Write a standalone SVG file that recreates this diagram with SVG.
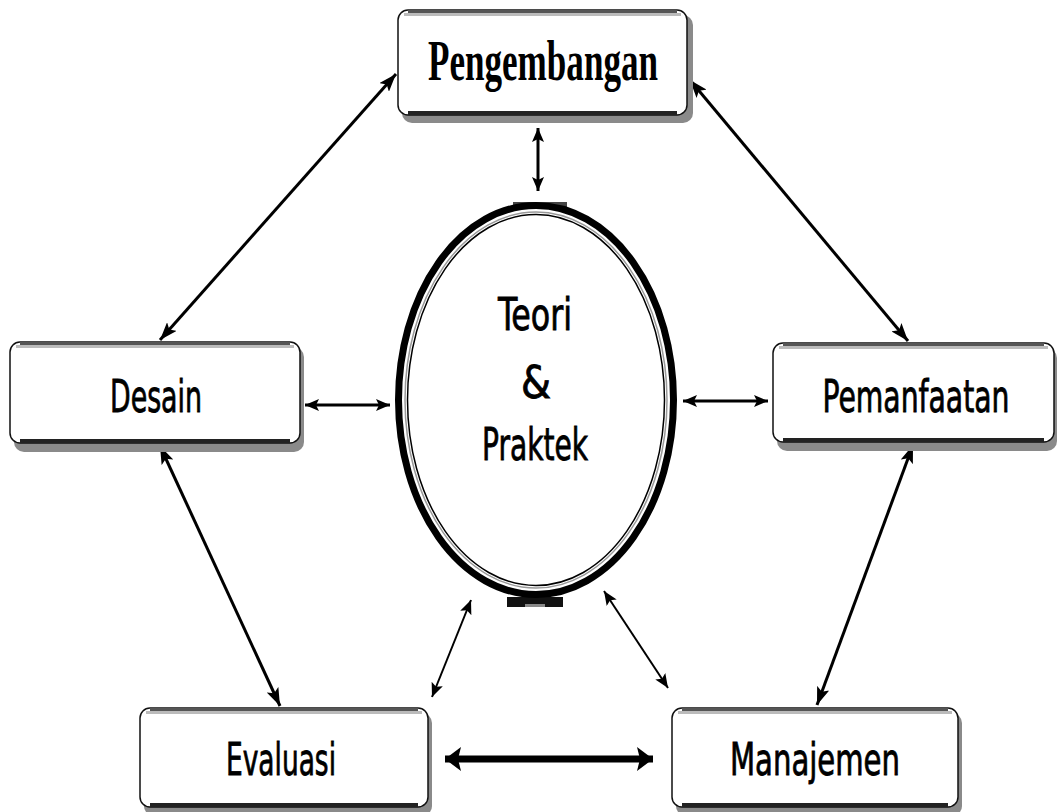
<svg xmlns="http://www.w3.org/2000/svg" width="1057" height="812" viewBox="0 0 1057 812">
<style>
.shadow{fill:#8a8a8a}
.box{fill:#fff;stroke:#111;stroke-width:1.5}
.topd{stroke:#555;stroke-width:3}
.topl{stroke:#bbb;stroke-width:3}
.botd{stroke:#222;stroke-width:4}
.lbl{font-family:"Liberation Sans Narrow","DejaVu Sans Condensed","Liberation Sans",sans-serif;font-weight:normal;font-size:44px;fill:#000;text-anchor:middle;stroke:#000;stroke-width:0.8}
.ser{font-family:"Liberation Serif",serif;font-weight:bold;font-size:56px;fill:#000;text-anchor:middle}
.con{fill:none;stroke:#000}
</style>
<defs>
<marker id="ab" viewBox="0 0 18 13" refX="18" refY="6.5" markerWidth="18" markerHeight="13" markerUnits="userSpaceOnUse" orient="auto-start-reverse"><path d="M0,0 L18,6.5 L0,13 L4,6.5 z" fill="#000"/></marker>
<marker id="as" viewBox="0 0 14 12" refX="14" refY="6" markerWidth="14" markerHeight="12" markerUnits="userSpaceOnUse" orient="auto-start-reverse"><path d="M0,0 L14,6 L0,12 L3,6 z" fill="#000"/></marker>
<marker id="at" viewBox="0 0 16 24" refX="16" refY="12" markerWidth="16" markerHeight="24" markerUnits="userSpaceOnUse" orient="auto-start-reverse"><path d="M0,0 L16,12 L0,24 L3,12 z" fill="#000"/></marker>
</defs>
<rect width="1057" height="812" fill="#fff"/>

<g id="connectors">
<line class="con" stroke-width="3" x1="396" y1="74" x2="160" y2="340" marker-start="url(#ab)" marker-end="url(#ab)"/>
<line class="con" stroke-width="3" x1="690" y1="80" x2="908" y2="341" marker-start="url(#ab)" marker-end="url(#ab)"/>
<line class="con" stroke-width="3" x1="538" y1="128" x2="538" y2="191" marker-start="url(#as)" marker-end="url(#as)"/>
<line class="con" stroke-width="3" x1="305" y1="405" x2="390" y2="405" marker-start="url(#as)" marker-end="url(#as)"/>
<line class="con" stroke-width="3" x1="683" y1="401" x2="768" y2="401" marker-start="url(#as)" marker-end="url(#as)"/>
<line class="con" stroke-width="3" x1="160" y1="446" x2="280" y2="706" marker-start="url(#ab)" marker-end="url(#ab)"/>
<line class="con" stroke-width="3" x1="913" y1="445" x2="817" y2="705" marker-start="url(#ab)" marker-end="url(#ab)"/>
<line class="con" stroke-width="2" x1="471" y1="600" x2="432" y2="697" marker-start="url(#as)" marker-end="url(#as)"/>
<line class="con" stroke-width="2" x1="604" y1="591" x2="668" y2="688" marker-start="url(#as)" marker-end="url(#as)"/>
<line class="con" stroke-width="7" x1="445" y1="759" x2="653" y2="759" marker-start="url(#at)" marker-end="url(#at)"/>
</g>

<g id="n-pengembangan">
<rect class="shadow" x="402" y="15" width="291" height="108" rx="10"/>
<rect class="box" x="398" y="10" width="289" height="105" rx="10"/>
<line class="topd" x1="408" y1="11.5" x2="677" y2="11.5"/>
<line class="topl" x1="404" y1="14.5" x2="681" y2="14.5"/>
<line class="botd" x1="408" y1="113" x2="677" y2="113"/>
<text class="ser" x="543" y="80" textLength="230" lengthAdjust="spacingAndGlyphs">Pengembangan</text>
</g>

<g id="n-desain">
<rect class="shadow" x="14" y="347" width="290" height="105" rx="10"/>
<rect class="box" x="10" y="342" width="290" height="101" rx="10"/>
<line class="topd" x1="20" y1="343.5" x2="290" y2="343.5"/>
<line class="topl" x1="16" y1="346.5" x2="294" y2="346.5"/>
<line class="botd" x1="20" y1="441" x2="290" y2="441"/>
<text class="lbl" x="156" y="412" textLength="92" lengthAdjust="spacingAndGlyphs">Desain</text>
</g>

<g id="n-pemanfaatan">
<rect class="shadow" x="777" y="348" width="280" height="103" rx="10"/>
<rect class="box" x="773" y="343" width="281" height="99" rx="10"/>
<line class="topd" x1="783" y1="344.5" x2="1044" y2="344.5"/>
<line class="topl" x1="779" y1="347.5" x2="1048" y2="347.5"/>
<line class="botd" x1="783" y1="440" x2="1044" y2="440"/>
<text class="lbl" x="916" y="412" textLength="187" lengthAdjust="spacingAndGlyphs">Pemanfaatan</text>
</g>

<g id="n-evaluasi">
<rect class="shadow" x="144" y="713" width="288" height="103" rx="10"/>
<rect class="box" x="140" y="708" width="288" height="99" rx="10"/>
<line class="topd" x1="150" y1="709.5" x2="418" y2="709.5"/>
<line class="topl" x1="146" y1="712.5" x2="422" y2="712.5"/>
<line class="botd" x1="150" y1="805" x2="418" y2="805"/>
<text class="lbl" x="281" y="775" textLength="110" lengthAdjust="spacingAndGlyphs">Evaluasi</text>
</g>

<g id="n-manajemen">
<rect class="shadow" x="676" y="713" width="286" height="103" rx="10"/>
<rect class="box" x="672" y="708" width="286" height="99" rx="10"/>
<line class="topd" x1="682" y1="709.5" x2="948" y2="709.5"/>
<line class="topl" x1="678" y1="712.5" x2="952" y2="712.5"/>
<line class="botd" x1="682" y1="805" x2="948" y2="805"/>
<text class="lbl" x="815" y="775" textLength="170" lengthAdjust="spacingAndGlyphs">Manajemen</text>
</g>

<g id="n-teori">
<rect x="513" y="202" width="54" height="5" fill="#444"/>
<rect x="507" y="597" width="56" height="10" fill="#111"/>
<rect x="525" y="604" width="20" height="3" fill="#888"/>
<ellipse cx="536" cy="400" rx="137.5" ry="194.5" fill="#fff" stroke="#000" stroke-width="7"/>
<ellipse cx="536" cy="400" rx="131" ry="188" fill="none" stroke="#999" stroke-width="1.5"/>
<ellipse cx="536" cy="400" rx="128.5" ry="185.5" fill="none" stroke="#000" stroke-width="1.5"/>
<text class="lbl" x="535" y="330" textLength="74" lengthAdjust="spacingAndGlyphs">Teori</text>
<text class="lbl" x="536" y="398" textLength="30" lengthAdjust="spacingAndGlyphs">&amp;</text>
<text class="lbl" x="535" y="460" textLength="106" lengthAdjust="spacingAndGlyphs">Praktek</text>
</g>
</svg>
